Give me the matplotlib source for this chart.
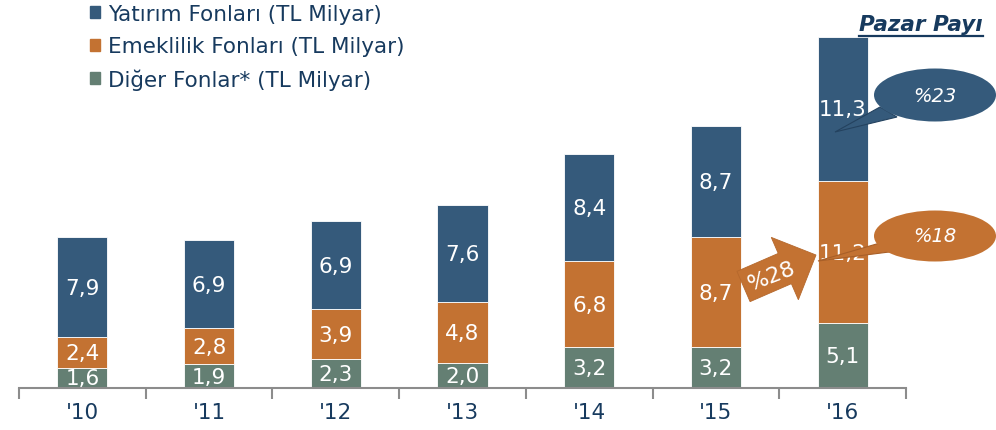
import matplotlib
matplotlib.use("Agg")
import matplotlib.pyplot as plt
from matplotlib.patches import Ellipse, Polygon, Patch
import numpy as np

years = ["'10", "'11", "'12", "'13", "'14", "'15", "'16"]
diger = [1.6, 1.9, 2.3, 2.0, 3.2, 3.2, 5.1]
emeklilik = [2.4, 2.8, 3.9, 4.8, 6.8, 8.7, 11.2]
yatirim = [7.9, 6.9, 6.9, 7.6, 8.4, 8.7, 11.3]
series_names = ["Yatırım Fonları (TL Milyar)", "Emeklilik Fonları (TL Milyar)", "Diğer Fonlar* (TL Milyar)"]
share_yatirim = "%23"
share_emeklilik = "%18"
growth_emeklilik = "%28"

C_BLUE = "#355A7B"
C_ORANGE = "#C37232"
C_GREEN = "#647F73"
C_TEXT = "#173A5E"

W, H = 996, 431
fig = plt.figure(figsize=(W / 100, H / 100), dpi=100)
ax = fig.add_axes([19 / W, (H - 389) / H, (906 - 19) / W, 389 / H])
scale = 12.72  # px per unit
ax.set_ylim(0, 389 / scale)
ax.set_xlim(-0.5, len(years) - 0.5)

x = np.arange(len(years))
bw = 0.395
d = np.array(diger); e = np.array(emeklilik); y = np.array(yatirim)
ax.bar(x, d, bw, color=C_GREEN, edgecolor="white", linewidth=0.6)
ax.bar(x, e, bw, bottom=d, color=C_ORANGE, edgecolor="white", linewidth=0.6)
ax.bar(x, y, bw, bottom=d + e, color=C_BLUE, edgecolor="white", linewidth=0.6)

def fmt(v):
    return f"{v:.1f}".replace(".", ",")

for i in range(len(years)):
    for bottom, val in [(0, d[i]), (d[i], e[i]), (d[i] + e[i], y[i])]:
        ax.text(x[i], bottom + val / 2 - 0.05, fmt(val), ha="center", va="center",
                color="white", fontsize=15.5)

for s in ["top", "right", "left"]:
    ax.spines[s].set_visible(False)
ax.spines["bottom"].set_color("#8C8C8C")
ax.spines["bottom"].set_linewidth(1.5)
ax.set_yticks([])
ax.set_xticks(np.arange(-0.5, len(years) + 0.5, 1))
ax.set_xticklabels([])
ax.tick_params(axis="x", length=8, width=1.5, color="#8C8C8C", direction="out")
ax.set_xticks(x, minor=True)
ax.set_xticklabels(years, minor=True, fontsize=15.5, color=C_TEXT)
ax.tick_params(axis="x", which="minor", length=0, pad=10)

# legend
handles = [Patch(color=C_BLUE), Patch(color=C_ORANGE), Patch(color=C_GREEN)]
leg = fig.legend(handles, series_names, loc="upper left", bbox_to_anchor=(90 / W, 1 - 5 / H),
                 frameon=False, fontsize=15.5, handlelength=0.47, handleheight=0.47,
                 handletextpad=0.35, labelspacing=0.57, borderaxespad=0, borderpad=0)
for t in leg.get_texts():
    t.set_color(C_TEXT)

# Pazar Payı
t = fig.text(983 / W, 1 - 25 / H, "Pazar Payı", ha="right", va="center", fontsize=15.5,
             fontweight="bold", fontstyle="italic", color=C_TEXT)
fig.canvas.draw()
bb = t.get_window_extent()
fig.add_artist(plt.Line2D([bb.x0 / W, bb.x1 / W], [(H - 36.5) / H, (H - 36.5) / H],
                          transform=fig.transFigure, color=C_TEXT, linewidth=1.6))

def px2fig(pts):
    return [(px / W, 1 - py / H) for px, py in pts]

def callout(cx, cy, w, h, tail, color, edge, text):
    poly = Polygon(px2fig(tail), closed=True, transform=fig.transFigure,
                   facecolor=color, edgecolor=edge, linewidth=0.8, clip_on=False)
    fig.add_artist(poly)
    e_ = Ellipse((cx / W, 1 - cy / H), w / W, h / H, transform=fig.transFigure,
                 facecolor=color, edgecolor="none", clip_on=False)
    fig.add_artist(e_)
    fig.text(cx / W, 1 - cy / H, text, ha="center", va="center", color="white",
             fontsize=14, fontstyle="italic")

callout(935, 96, 122, 53, [(880, 108), (897, 118), (835, 133)], C_BLUE, "#24425F", share_yatirim)
callout(935, 237, 122, 51, [(880, 244), (897, 252), (818, 262)], C_ORANGE, "#A85F28", share_emeklilik)

# growth arrow
p0 = np.array([743.5, 287.5]); p1 = np.array([816.0, 256.0])
u = (p1 - p0) / np.linalg.norm(p1 - p0)
n = np.array([u[1], -u[0]])
L = np.linalg.norm(p1 - p0)
bw2, hw2, hl = 16.5, 34, 34
pts = [p0 + n * bw2, p0 + u * (L - hl) + n * bw2, p0 + u * (L - hl) + n * hw2, p1,
       p0 + u * (L - hl) - n * hw2, p0 + u * (L - hl) - n * bw2, p0 - n * bw2]
fig.add_artist(Polygon(px2fig([tuple(p) for p in pts]), closed=True, transform=fig.transFigure,
                       facecolor=C_ORANGE, edgecolor="#B5682C", linewidth=0.6, clip_on=False))
ang = 21
fig.text(772 / W, 1 - 277 / H, growth_emeklilik, ha="center", va="center", color="white",
         fontsize=16, rotation=ang, rotation_mode="anchor")

fig.savefig("out.png", dpi=100)
